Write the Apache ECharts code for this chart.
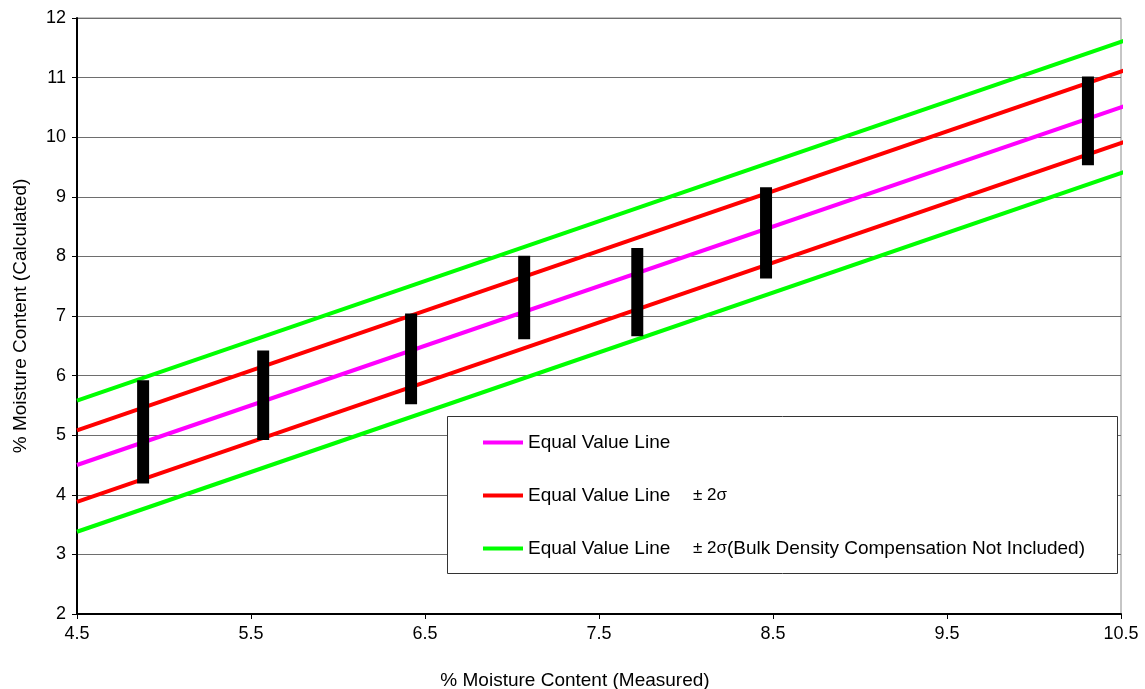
<!DOCTYPE html>
<html>
<head>
<meta charset="utf-8">
<script src="https://cdn.jsdelivr.net/npm/echarts@6/dist/echarts.min.js"></script>
<style>
html,body{margin:0;padding:0;background:#fff;}
#chart{width:1145px;height:689px;}
</style>
</head>
<body>
<div id="chart"></div>
<script>
// ---- data ----
const xTicks = [4.5, 5.5, 6.5, 7.5, 8.5, 9.5, 10.5];
const lineX = [4.5, 10.53];
const equalLine = [4.5, 10.53];
const redUpper = [5.08, 11.13];
const redLower = [3.88, 9.93];
const greenUpper = [5.58, 11.63];
const greenLower = [3.38, 9.43];
const barX = [4.88, 5.57, 6.42, 7.07, 7.72, 8.46, 10.31];
const barLow = [4.19, 4.92, 5.52, 6.61, 6.66, 7.63, 9.53];
const barHigh = [5.92, 6.42, 7.04, 8.01, 8.14, 9.16, 11.02];

const NAME1 = 'Equal Value Line';
const NAME2 = 'Equal Value Line ±2σ';
const NAME3 = 'Equal Value Line ±2σ (BDC)';

const font = 'Liberation Sans, Arial, sans-serif';
function pts(ys){ return lineX.map((x,i)=>[x, ys[i]]); }
function lineSeries(name, ys, color){
  return {type:'line', name:name, data:pts(ys), symbol:'none', clip:false,
    lineStyle:{color:color, width:4}, itemStyle:{color:color}, z:3, silent:true};
}

const chart = echarts.init(document.getElementById('chart'));
chart.setOption({
  animation:false,
  backgroundColor:'#fff',
  textStyle:{fontFamily:font},
  grid:{left:77, right:24, top:18, bottom:75, show:true, borderColor:'#8c8c8c', borderWidth:1,
        containLabel:false, outerBoundsMode:'none'},
  xAxis:{
    type:'value', min:4.5, max:10.5,
    name:'% Moisture Content (Measured)', nameLocation:'middle', nameGap:57,
    nameTextStyle:{fontSize:19, color:'#000', fontFamily:font, padding:[0,48,0,0]},
    axisLine:{show:true, onZero:false, lineStyle:{color:'#000', width:2}},
    axisTick:{show:true, length:5, lineStyle:{color:'#000'}, customValues:xTicks},
    axisLabel:{fontSize:18, color:'#000', margin:11, customValues:xTicks},
    splitLine:{show:false}
  },
  yAxis:{
    type:'value', min:2, max:12, interval:1,
    name:'% Moisture Content (Calculated)', nameLocation:'middle', nameGap:47,
    nameTextStyle:{fontSize:19, color:'#000', fontFamily:font},
    axisLine:{show:true, onZero:false, lineStyle:{color:'#000', width:2}},
    axisTick:{show:true, length:5, lineStyle:{color:'#000'}},
    axisLabel:{fontSize:18, color:'#000', margin:11},
    splitLine:{show:true, lineStyle:{color:'#6e6e6e', width:1}}
  },
  legend:{
    orient:'vertical', left:478, top:428, itemGap:34, z:60,
    itemWidth:40, itemHeight:4, icon:'rect',
    data:[NAME1, NAME2, NAME3],
    formatter:function(n){
      if(n===NAME1) return '{a|Equal Value Line}';
      if(n===NAME2) return '{a|Equal Value Line}{b|± 2σ}';
      return '{a|Equal Value Line}{b|± 2σ}{c|(Bulk Density Compensation Not Included)}';
    },
    textStyle:{fontSize:19, color:'#000', fontFamily:font,
      rich:{a:{fontSize:19, width:165, color:'#000', fontFamily:font},
            b:{fontSize:17, color:'#000', fontFamily:font},
            c:{fontSize:19, color:'#000', fontFamily:font}}}
  },
  graphic:[{type:'rect', left:447, top:416, shape:{width:670, height:157},
    style:{fill:'#fff', stroke:'#333', lineWidth:1}, z:50}],
  series:[
    lineSeries(NAME3, greenUpper, '#00ff00'),
    lineSeries(NAME3, greenLower, '#00ff00'),
    lineSeries(NAME2, redUpper, '#ff0000'),
    lineSeries(NAME2, redLower, '#ff0000'),
    lineSeries(NAME1, equalLine, '#ff00ff'),
    {type:'custom', name:'bars', z:4, silent:true,
     data:barX.map((x,i)=>[x, barLow[i], barHigh[i]]),
     renderItem:function(params, api){
       const p1 = api.coord([api.value(0), api.value(2)]);
       const p2 = api.coord([api.value(0), api.value(1)]);
       return {type:'rect', shape:{x:p1[0]-6, y:p1[1], width:12, height:p2[1]-p1[1]},
         style:{fill:'#000'}};
     }}
  ]
});
</script>
</body>
</html>
